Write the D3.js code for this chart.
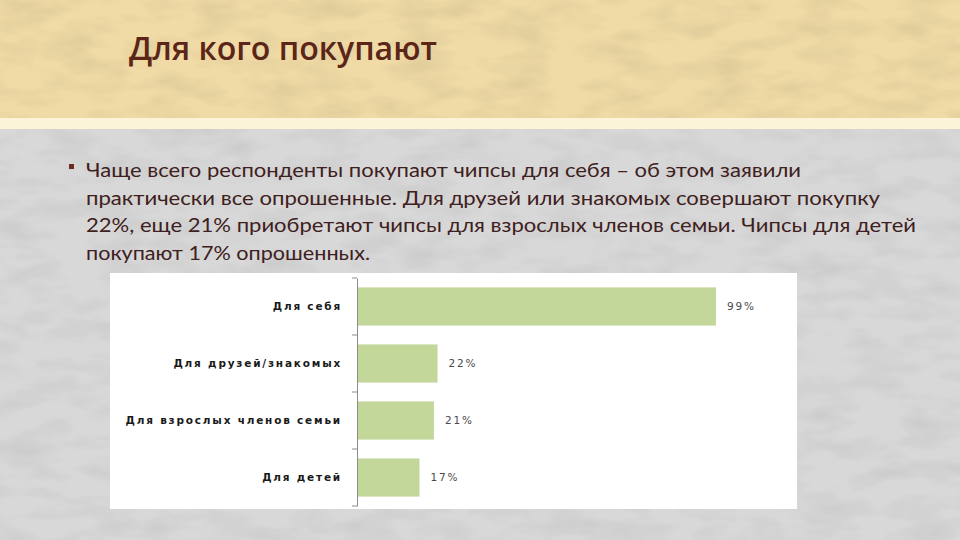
<!DOCTYPE html>
<html>
<head>
<meta charset="utf-8">
<script src="https://cdn.jsdelivr.net/npm/d3@7"></script>
<style>
  html, body { margin: 0; padding: 0; background: #d8d8d8; }
  svg { display: block; }
</style>
</head>
<body>
<script>
(function(){
  var width = 960;
  var height = 540;

  var title = "Для кого покупают";
  var bulletLines = [
    "Чаще всего респонденты покупают чипсы для себя – об этом заявили",
    "практически все опрошенные. Для друзей или знакомых совершают покупку",
    "22%, еще 21% приобретают чипсы для взрослых членов семьи. Чипсы для детей",
    "покупают 17% опрошенных."
  ];
  var lineWidths = [715, 794, 830, 284];

  var categories = ["Для себя", "Для друзей/знакомых", "Для взрослых членов семьи", "Для детей"];
  var values = [99, 22, 21, 17];

  var svg = d3.select("body").append("svg")
    .attr("width", width)
    .attr("height", height);

  var defs = svg.append("defs");
  var noise = defs.append("filter").attr("id", "grain")
    .attr("x", 0).attr("y", 0).attr("width", "100%").attr("height", "100%");
  noise.append("feTurbulence")
    .attr("type", "fractalNoise")
    .attr("baseFrequency", "0.02 0.05")
    .attr("numOctaves", 3)
    .attr("seed", 4);
  noise.append("feColorMatrix")
    .attr("type", "matrix")
    .attr("values", "0 0 0 0 0  0 0 0 0 0  0 0 0 0 0  0 0 0 -0.9 0.55");
  noise.append("feComposite").attr("in2", "SourceGraphic").attr("operator", "in");

  // background: beige header, cream strip, grey paper
  svg.append("rect").attr("width", width).attr("height", height).attr("fill", "#d8d8d8");
  svg.append("rect").attr("y", 128).attr("width", width).attr("height", height - 128)
    .attr("fill", "#ffffff").attr("opacity", 0.12).attr("filter", "url(#grain)");
  svg.append("rect").attr("width", width).attr("height", 118).attr("fill", "#f0dba6");
  svg.append("rect").attr("width", width).attr("height", 118)
    .attr("fill", "#e3c98c").attr("opacity", 0.15).attr("filter", "url(#grain)");
  svg.append("rect").attr("y", 118).attr("width", width).attr("height", 11).attr("fill", "#fbf4d8");

  svg.append("text")
    .attr("x", 129).attr("y", 60)
    .attr("font-family", "'Open Sans', Lato, sans-serif")
    .attr("font-weight", 600)
    .attr("font-size", 33)
    .attr("fill", "#5b2618")
    .attr("textLength", 308)
    .attr("lengthAdjust", "spacingAndGlyphs")
    .text(title);

  svg.append("rect").attr("x", 69).attr("y", 164).attr("width", 5).attr("height", 5).attr("fill", "#6b2a22");

  svg.append("g").selectAll("text")
    .data(bulletLines)
    .join("text")
    .attr("x", 86)
    .attr("y", function(d, i){ return 177 + i * 27.5; })
    .attr("font-family", "Lato, 'Open Sans', sans-serif")
    .attr("font-size", 19.5)
    .attr("fill", "#3e2020")
    .attr("textLength", function(d, i){ return lineWidths[i]; })
    .attr("lengthAdjust", "spacingAndGlyphs")
    .text(function(d){ return d; });

  // chart panel
  var panel = { x: 110, y: 273, w: 687, h: 236 };
  svg.append("rect")
    .attr("x", panel.x).attr("y", panel.y)
    .attr("width", panel.w).attr("height", panel.h)
    .attr("fill", "#ffffff");

  var x = d3.scaleLinear().domain([0, 100]).range([358, 719.6]);
  var y = d3.scaleBand().domain(categories).range([278, 506]).paddingInner(0.33).paddingOuter(0.165);

  svg.append("g").selectAll("rect")
    .data(values)
    .join("rect")
    .attr("x", x(0))
    .attr("y", function(d, i){ return y(categories[i]); })
    .attr("width", function(d){ return x(d) - x(0); })
    .attr("height", y.bandwidth())
    .attr("fill", "#c4d79b");

  var axis = d3.axisLeft(y).tickSize(0).tickPadding(15);
  var gAxis = svg.append("g").attr("transform", "translate(357,0)").call(axis);
  gAxis.select(".domain").attr("stroke", "#8c8c8c");
  gAxis.selectAll(".tick text")
    .attr("font-family", "'DejaVu Sans', Verdana, sans-serif")
    .attr("font-weight", "bold")
    .attr("font-size", 10.5)
    .attr("letter-spacing", 1.8)
    .attr("fill", "#1a1a1a");

  // category boundary ticks
  var bounds = d3.range(categories.length + 1).map(function(i){ return 278 + i * y.step(); });
  svg.append("g").selectAll("line")
    .data(bounds)
    .join("line")
    .attr("x1", 352).attr("x2", 357)
    .attr("y1", function(d){ return d; }).attr("y2", function(d){ return d; })
    .attr("stroke", "#8c8c8c");

  svg.append("g").selectAll("text")
    .data(values)
    .join("text")
    .attr("x", function(d){ return x(d) + 11; })
    .attr("y", function(d, i){ return y(categories[i]) + y.bandwidth() / 2; })
    .attr("dy", "0.35em")
    .attr("font-family", "'DejaVu Sans', Verdana, sans-serif")
    .attr("font-size", 10.5)
    .attr("letter-spacing", 1.8)
    .attr("fill", "#4a4a4a")
    .text(function(d){ return d + "%"; });
})();
</script>
</body>
</html>
